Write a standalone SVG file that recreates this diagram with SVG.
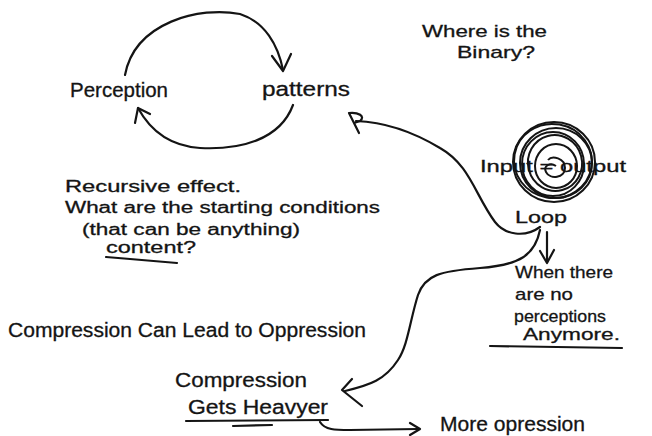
<svg xmlns="http://www.w3.org/2000/svg" width="652" height="436" viewBox="0 0 652 436">
<style>
text{font-family:"Liberation Sans","DejaVu Sans",sans-serif;fill:#141414;stroke:#141414;stroke-width:0.3}
.l{font-size:20px}
.m{font-size:17px}
.s{font-size:16px}
.ln{fill:none;stroke:#141414;stroke-width:2.2;stroke-linecap:round;stroke-linejoin:round}
.sp{fill:none;stroke:#141414;stroke-width:2}
</style>
<rect width="652" height="436" fill="#ffffff"/>
<g id="connectors">
<path class="ln" d="M125,75 C135,22 200,6 240,14 C265,22 278,45 283,70"/>
<path class="ln" d="M272,56 L283,71 L291,54"/>
<path class="ln" d="M293,105 C280,140 240,150 200,148 C170,146 150,130 138,108"/>
<path class="ln" d="M135,123 L138,108 L150,114"/>
<path class="ln" d="M540,227 C525,238 505,235 495,222 C475,195 470,165 440,148 C415,133 385,122 356,121"/>
<path class="ln" d="M359,133 L349,113 C358,112 366,116 360,121 L354,123"/>
<path class="ln" d="M540,230 C535,255 520,265 480,268 C440,271 425,275 418,295 C410,320 408,345 398,360 C385,380 370,385 345,391"/>
<path class="ln" d="M352,379 L342,390 L362,406"/>
<path class="ln" d="M547,232 L547,262"/>
<path class="ln" d="M540,251 L547,263 L554,250"/>
<path class="ln" d="M320,422 C325,430 335,430 350,430 L418,429"/>
<path class="ln" d="M410,423 L420,429 L410,435"/>
</g>
<g id="perception"><text class="l" x="70" y="97" textLength="98" lengthAdjust="spacingAndGlyphs">Perception</text></g>
<g id="patterns"><text class="l" x="262" y="96" textLength="88" lengthAdjust="spacingAndGlyphs">patterns</text></g>
<g id="binary">
<text class="m" x="422" y="37" textLength="125" lengthAdjust="spacingAndGlyphs">Where is the</text>
<text class="m" x="457" y="58" textLength="78" lengthAdjust="spacingAndGlyphs">Binary?</text>
</g>
<g id="loop">
<text class="m" x="480" y="172" textLength="146" lengthAdjust="spacingAndGlyphs">Input = output</text>
<ellipse class="sp" cx="554" cy="162" rx="41" ry="40"/>
<ellipse class="sp" cx="553" cy="161" rx="39" ry="37" transform="rotate(10 553 161)"/>
<ellipse class="sp" cx="556" cy="163" rx="36" ry="35"/>
<ellipse class="sp" cx="553" cy="164" rx="31" ry="32"/>
<ellipse class="sp" cx="555" cy="163" rx="27" ry="28" transform="rotate(-15 555 163)"/>
<ellipse class="sp" cx="556" cy="166" rx="21" ry="22"/>
<path class="sp" d="M548,160 C552,155 565,158 565,168 C565,178 550,180 546,172 C543,166 550,162 556,166"/>
<text class="m" x="515" y="223" textLength="52" lengthAdjust="spacingAndGlyphs">Loop</text>
</g>
<g id="no-perceptions">
<text class="m" x="515" y="278" textLength="98" lengthAdjust="spacingAndGlyphs">When there</text>
<text class="m" x="515" y="300" textLength="58" lengthAdjust="spacingAndGlyphs">are no</text>
<text class="m" x="514" y="322" textLength="92" lengthAdjust="spacingAndGlyphs">perceptions</text>
<text class="m" x="523" y="340" textLength="97" lengthAdjust="spacingAndGlyphs">Anymore.</text>
<path class="ln" d="M490,346 L622,348"/>
</g>
<g id="recursive">
<text class="s" x="65" y="192" textLength="176" lengthAdjust="spacingAndGlyphs">Recursive effect.</text>
<text class="s" x="65" y="213" textLength="315" lengthAdjust="spacingAndGlyphs">What are the starting conditions</text>
<text class="s" x="82" y="235" textLength="218" lengthAdjust="spacingAndGlyphs">(that can be anything)</text>
<text class="s" x="106" y="253" textLength="90" lengthAdjust="spacingAndGlyphs">content?</text>
<path class="ln" d="M106,257 C130,259 155,261 177,263"/>
</g>
<g id="compression-lead"><text class="l" x="8" y="337" textLength="358" lengthAdjust="spacingAndGlyphs">Compression Can Lead to Oppression</text></g>
<g id="compression-heavier">
<text class="l" x="175" y="387" textLength="132" lengthAdjust="spacingAndGlyphs">Compression</text>
<text class="l" x="188" y="414" textLength="140" lengthAdjust="spacingAndGlyphs">Gets Heavyer</text>
<path class="ln" d="M186,421 L328,420"/>
<path class="ln" d="M233,426 L272,425"/>
</g>
<g id="more-oppression"><text class="l" x="440" y="431" textLength="145" lengthAdjust="spacingAndGlyphs">More opression</text></g>
</svg>
